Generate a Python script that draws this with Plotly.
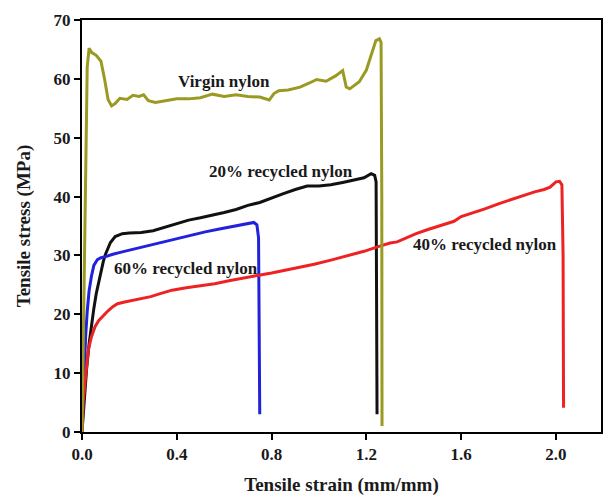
import plotly.graph_objects as go

# Virgin nylon
virgin_x = [0, 0.008, 0.015, 0.022, 0.03, 0.04, 0.06, 0.08, 0.095, 0.11, 0.125, 0.14, 0.16, 0.19, 0.215,
            0.24, 0.26, 0.28, 0.31, 0.35, 0.40, 0.45, 0.50, 0.55, 0.60, 0.65, 0.70, 0.75, 0.79, 0.81, 0.83,
            0.87, 0.92, 0.96, 0.99, 1.03, 1.07, 1.10, 1.115, 1.13, 1.17, 1.20, 1.225, 1.24, 1.255, 1.262,
            1.265, 1.266]
virgin_y = [0, 20, 45, 62, 65.2, 64.5, 64, 63, 60, 56.5, 55.4, 55.8, 56.7, 56.5, 57.2,
            57, 57.3, 56.3, 56, 56.3, 56.6, 56.6, 56.8, 57.4, 57.0, 57.3, 57.0, 56.9, 56.4, 57.5, 58,
            58.1, 58.6, 59.3, 59.9, 59.6, 60.5, 61.4, 58.6, 58.3, 59.5, 61.5, 64.5, 66.5, 66.8, 66.2,
            40, 1]

# 20% recycled nylon
r20_x = [0, 0.01, 0.02, 0.03, 0.04, 0.05, 0.06, 0.07, 0.08, 0.09, 0.10, 0.11, 0.12, 0.14, 0.17, 0.20,
         0.25, 0.30, 0.35, 0.40, 0.45, 0.50, 0.55, 0.60, 0.65, 0.70, 0.75, 0.80, 0.85, 0.90, 0.95, 1.00,
         1.05, 1.10, 1.15, 1.19, 1.22, 1.235, 1.241, 1.243, 1.245]
r20_y = [0, 6, 11, 15, 18.5, 21, 23.5, 25.5, 27.5, 29, 30.3, 31.3, 32.2, 33.2, 33.7, 33.8,
         33.9, 34.2, 34.8, 35.4, 36.0, 36.4, 36.8, 37.3, 37.8, 38.5, 39.0, 39.8, 40.5, 41.2, 41.8, 41.8,
         42.0, 42.4, 42.8, 43.2, 43.9, 43.6, 42.5, 20, 3]

# 40% recycled nylon
r40_x = [0, 0.005, 0.013, 0.02, 0.027, 0.04, 0.055, 0.07, 0.09, 0.11, 0.13, 0.15, 0.18, 0.22, 0.26, 0.29,
         0.33, 0.38, 0.44, 0.50, 0.56, 0.62, 0.68, 0.74, 0.80, 0.86, 0.92, 0.98, 1.05, 1.12, 1.19, 1.25,
         1.30, 1.33, 1.37, 1.41, 1.46, 1.52, 1.57, 1.60, 1.65, 1.70, 1.76, 1.82, 1.87, 1.91, 1.95, 1.975,
         2.0, 2.015, 2.025, 2.03, 2.032]
r40_y = [0, 5, 8.5, 11.5, 14, 16.2, 17.9, 18.9, 19.8, 20.6, 21.3, 21.8, 22.1, 22.4, 22.7, 23.0,
         23.5, 24.1, 24.5, 24.8, 25.2, 25.7, 26.2, 26.6, 27.0, 27.5, 27.9, 28.5, 29.2, 29.9, 30.7, 31.5,
         32.1, 32.3, 33.0, 33.7, 34.4, 35.2, 35.8, 36.6, 37.2, 37.9, 38.8, 39.6, 40.3, 40.8, 41.2, 41.6,
         42.5, 42.6, 42.0, 30, 4.1]

# 60% recycled nylon
r60_x = [0, 0.008, 0.015, 0.022, 0.03, 0.04, 0.05, 0.065, 0.08, 0.1, 0.13, 0.17, 0.22, 0.28, 0.34, 0.40,
         0.46, 0.52, 0.58, 0.63, 0.68, 0.71, 0.725, 0.738, 0.745, 0.748, 0.75]
r60_y = [0, 10, 16, 20.5, 24, 26.5, 28.3, 29.3, 29.6, 29.8, 30.2, 30.6, 31.1, 31.7, 32.3, 32.9,
         33.4, 34.0, 34.5, 34.9, 35.2, 35.5, 35.6, 35.2, 33, 15, 3]

labels = ["Virgin nylon", "20% recycled nylon", "60% recycled nylon", "40% recycled nylon"]
label_x = [0.60, 0.84, 0.44, 1.70]
label_y = [59.6, 44.3, 27.8, 31.8]

x_ticks = [0.0, 0.4, 0.8, 1.2, 1.6, 2.0]
y_ticks = [0, 10, 20, 30, 40, 50, 60, 70]

FONT = "Liberation Serif"

fig = go.Figure()
series = [
    (r20_x, r20_y, "#111111"),
    (r60_x, r60_y, "#2222dd"),
    (r40_x, r40_y, "#ee2222"),
    (virgin_x, virgin_y, "#9a9a22"),
]
for xs, ys, c in series:
    fig.add_trace(go.Scatter(x=xs, y=ys, mode="lines", line=dict(color=c, width=3),
                             showlegend=False, hoverinfo="skip"))

for t, x, y in zip(labels, label_x, label_y):
    fig.add_annotation(x=x, y=y, text=t, showarrow=False,
                       font=dict(family=FONT, size=17, color="#1a1a1a", weight="bold"))

axis_common = dict(showgrid=False, zeroline=False, showline=True, linecolor="black", linewidth=2,
                   mirror=True, ticks="outside", ticklen=6, tickwidth=2, tickcolor="black",
                   tickfont=dict(family=FONT, size=17, color="#1a1a1a", weight="bold"))

fig.update_layout(
    width=605, height=496,
    margin=dict(l=82, r=2, t=20, b=64),
    plot_bgcolor="white", paper_bgcolor="white",
    xaxis=dict(range=[0, 2.19], tickvals=x_ticks, tickformat=".1f",
               title=dict(text="Tensile strain (mm/mm)", standoff=14,
                          font=dict(family=FONT, size=19, color="#1a1a1a", weight="bold")),
               **axis_common),
    yaxis=dict(range=[0, 70], tickvals=y_ticks,
               title=dict(text="Tensile stress (MPa)", standoff=18,
                          font=dict(family=FONT, size=19, color="#1a1a1a", weight="bold")),
               **axis_common),
)

fig.write_html("out.html")
